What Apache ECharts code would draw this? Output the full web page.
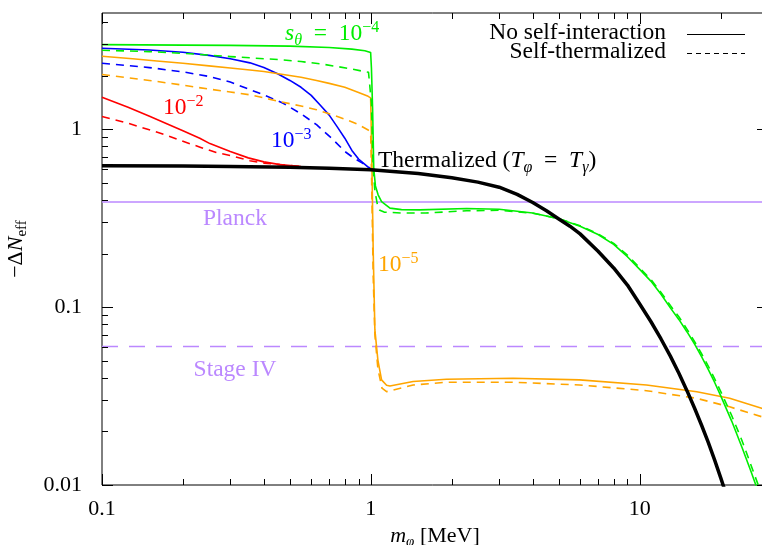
<!DOCTYPE html>
<html>
<head>
<meta charset="utf-8">
<script src="https://cdn.jsdelivr.net/npm/echarts@6/dist/echarts.min.js"></script>
<style>
html, body { margin: 0; padding: 0; background: #fff; }
#chart { width: 762px; height: 545px; }
</style>
</head>
<body>
<div id="chart"></div>
<script>
// -ΔN_eff versus scalar mass m_φ [MeV] for several mixing angles s_θ

// Thermalized reference (T_φ = T_γ)
const thermalized = [[0.1,0.623],[0.2,0.621],[0.3,0.618],[0.5,0.612],[0.7,0.604],[1.0,0.592],[1.5,0.563],[2,0.533],[2.5,0.504],[3,0.472],[3.5,0.43],[4,0.387],[4.5,0.348],[5,0.313],[5.5,0.285],[6,0.258],[7,0.206],[8,0.166],[9,0.133],[10,0.104],[11,0.083],[12,0.0662],[13,0.053],[14,0.0423],[15,0.0338],[16,0.027],[17,0.0216],[18,0.0173],[19,0.0138],[20,0.011],[21,0.0088]];

// s_θ = 1e-4
const s4None = [[0.1,2.99],[0.2,2.97],[0.3,2.96],[0.5,2.93],[0.7,2.88],[0.85,2.82],[0.95,2.76],[0.998,2.70],[1.005,2.2],[1.015,1.3],[1.02,0.9],[1.025,0.6],[1.04,0.48],[1.064,0.428],[1.096,0.392],[1.178,0.36],[1.3,0.353],[1.52,0.352],[2.27,0.358],[3,0.355],[4,0.338],[5,0.314],[6,0.285],[7,0.256],[8,0.225],[9,0.192],[10,0.163],[11,0.14],[12,0.118],[13,0.099],[14,0.085],[15,0.0725],[16,0.062],[17,0.0525],[18,0.0445],[19,0.0377],[20,0.0318],[22,0.0228],[24,0.0163],[26,0.0118],[28,0.0086],[30,0.0063]];
const s4Self = [[0.1,2.78],[0.15,2.73],[0.2,2.67],[0.25,2.61],[0.3,2.56],[0.355,2.52],[0.4,2.49],[0.459,2.46],[0.55,2.4],[0.65,2.33],[0.75,2.25],[0.85,2.18],[0.93,2.12],[0.98,2.09],[0.995,2.05],[1.005,1.4],[1.011,1.0],[1.02,0.6],[1.035,0.45],[1.06,0.37],[1.08,0.35],[1.12,0.342],[1.3,0.338],[1.6,0.338],[2.27,0.348],[3,0.35],[4,0.337],[5,0.314],[6,0.287],[7,0.258],[8,0.228],[9,0.196],[10,0.166],[11,0.143],[12,0.121],[13,0.102],[14,0.088],[15,0.075],[16,0.064],[17,0.0545],[18,0.0465],[19,0.0395],[20,0.0336],[22,0.0245],[24,0.0178],[26,0.0128],[28,0.0094],[30,0.0068]];

// s_θ = 1e-5
const s5None = [[0.1,2.57],[0.13,2.49],[0.16,2.42],[0.2,2.35],[0.25,2.27],[0.3,2.21],[0.355,2.15],[0.4,2.11],[0.459,2.045],[0.55,1.96],[0.628,1.88],[0.7,1.81],[0.8,1.72],[0.9,1.61],[0.977,1.53],[0.998,1.5],[1.005,0.9],[1.011,0.52],[1.02,0.21],[1.035,0.0744],[1.062,0.0504],[1.096,0.039],[1.144,0.0364],[1.177,0.036],[1.436,0.0382],[1.91,0.0393],[3.38,0.0398],[5.98,0.039],[10.6,0.0365],[16.3,0.0334],[21.6,0.0307],[28.4,0.027],[30,0.0264]];
const s5Self = [[0.1,2.03],[0.15,1.88],[0.2,1.77],[0.25,1.68],[0.3,1.62],[0.355,1.56],[0.4,1.5],[0.459,1.43],[0.55,1.35],[0.628,1.287],[0.7,1.22],[0.8,1.14],[0.9,1.06],[0.977,0.99],[0.998,0.965],[1.005,0.6],[1.011,0.35],[1.02,0.15],[1.035,0.07],[1.062,0.045],[1.1,0.035],[1.144,0.0335],[1.2,0.034],[1.436,0.0365],[1.91,0.0378],[3.38,0.0378],[5.98,0.0365],[10.6,0.0339],[16.3,0.0307],[21.6,0.0275],[28.4,0.0242],[30,0.0235]];

// s_θ = 1e-3
const s3None = [[0.1,2.85],[0.15,2.79],[0.2,2.71],[0.25,2.6],[0.3,2.49],[0.355,2.36],[0.4,2.22],[0.45,2.05],[0.5,1.88],[0.55,1.72],[0.6,1.55],[0.65,1.36],[0.7,1.2],[0.75,1.03],[0.8,0.89],[0.85,0.76],[0.9,0.68],[0.95,0.635],[1.0,0.595]];
const s3Self = [[0.1,2.35],[0.15,2.22],[0.2,2.1],[0.25,1.98],[0.3,1.84],[0.355,1.67],[0.4,1.56],[0.472,1.4],[0.55,1.22],[0.628,1.06],[0.724,0.873],[0.8,0.75],[0.862,0.69],[0.93,0.645],[1.0,0.6]];

// s_θ = 1e-2
const s2None = [[0.1,1.51],[0.125,1.33],[0.151,1.18],[0.175,1.07],[0.2,0.98],[0.231,0.89],[0.252,0.83],[0.3,0.75],[0.35,0.69],[0.4,0.655],[0.459,0.632],[0.55,0.617],[0.6,0.612]];
const s2Self = [[0.1,1.18],[0.125,1.08],[0.151,0.99],[0.175,0.92],[0.2,0.855],[0.233,0.79],[0.266,0.74],[0.307,0.705],[0.355,0.665],[0.4,0.645],[0.459,0.632],[0.55,0.617],[0.6,0.612]];

// Sensitivity levels
const planckLevel = 0.39;
const stageIVLevel = 0.06;

// Axis ranges and ticks
const xRange = [0.1, 30];
const yRange = [0.01, 4.5];
const xMajorTicks = [0.1, 1, 10];
const xMinorTicks = [0.2,0.3,0.4,0.5,0.6,0.7,0.8,0.9,2,3,4,5,6,7,8,9,20];
const yMajorTicks = [0.01, 0.1, 1];
const yMinorTicks = [0.02,0.03,0.04,0.05,0.06,0.07,0.08,0.09,0.2,0.3,0.4,0.5,0.6,0.7,0.8,0.9,2,3,4];
const xTickLabels = {0.1: '0.1', 1: '1', 10: '10'};
const yTickLabels = {0.01: '0.01', 0.1: '0.1', 1: '1'};

const FONT = 'Liberation Serif';
const GREEN = '#00ee00', ORANGE = '#ffa500', BLUE = '#0000ff', RED = '#ff0000', PURPLE = '#bb88ff';

const chart = echarts.init(document.getElementById('chart'), null, { renderer: 'canvas' });

function curve(data, color, width, dashed, z) {
  return {
    type: 'line', data: data, showSymbol: false, symbol: 'none', silent: true,
    smooth: false, z: z || 2,
    lineStyle: { color: color, width: width, type: dashed ? [8, 6] : 'solid', join: 'round' }
  };
}

// tick marks on all four sides, placed through the axis scales
const tickData = []
  .concat(xMajorTicks.map(v => [v, yRange[0], 0, 1]))
  .concat(xMinorTicks.map(v => [v, yRange[0], 0, 0]))
  .concat(yMajorTicks.map(v => [xRange[0], v, 1, 1]))
  .concat(yMinorTicks.map(v => [xRange[0], v, 1, 0]));

const tickSeries = {
  type: 'custom', silent: true, clip: false, z: 20,
  encode: { x: 0, y: 1 },
  data: tickData,
  renderItem: function (params, api) {
    const cs = params.coordSys;
    const p = api.coord([api.value(0), api.value(1)]);
    const len = api.value(3) ? 11 : 6;
    const st = { stroke: '#000', lineWidth: 1 };
    if (api.value(2) === 0) {
      const x = Math.round(p[0]) + 0.5;
      const b = cs.y + cs.height, t = cs.y;
      return { type: 'group', children: [
        { type: 'line', shape: { x1: x, y1: b, x2: x, y2: b - len }, style: st },
        { type: 'line', shape: { x1: x, y1: t, x2: x, y2: t + len }, style: st }
      ]};
    }
    const y = Math.round(p[1]) + 0.5;
    const l = cs.x, r = cs.x + cs.width;
    return { type: 'group', children: [
      { type: 'line', shape: { x1: l, y1: y, x2: l + len, y2: y }, style: st },
      { type: 'line', shape: { x1: r, y1: y, x2: r - len, y2: y }, style: st }
    ]};
  }
};

function richSet(size) {
  const small = Math.round(size * 0.68);
  const lh = Math.round(size * 1.25);
  return {
    b: { fontFamily: FONT, fontSize: size, lineHeight: lh },
    i: { fontFamily: FONT, fontSize: size, lineHeight: lh, fontStyle: 'italic' },
    sup: { fontFamily: FONT, fontSize: small, lineHeight: small, verticalAlign: 'top' },
    sub: { fontFamily: FONT, fontSize: small, lineHeight: small, verticalAlign: 'bottom' },
    subi: { fontFamily: FONT, fontSize: small, lineHeight: small, verticalAlign: 'bottom', fontStyle: 'italic' }
  };
}
const richAxis = richSet(22);
const richLabel = richSet(23.5);

function label(x, y, text, color, align) {
  return {
    type: 'text', x: x, y: y, silent: true, z: 30,
    style: { text: text, rich: richLabel, fill: color, align: align || 'left', verticalAlign: 'middle', font: '23.5px ' + FONT }
  };
}

const EQ = '\u2002=\u2002';

const option = {
  animation: false,
  backgroundColor: '#fff',
  textStyle: { fontFamily: FONT },
  grid: { left: 102, top: 13, right: -6, bottom: 60, show: true, borderColor: '#000', borderWidth: 1,
    backgroundColor: 'transparent', containLabel: false, outerBoundsMode: 'none' },
  xAxis: {
    type: 'log', logBase: 10, min: xRange[0], max: xRange[1],
    axisLine: { show: false }, axisTick: { show: false }, splitLine: { show: false },
    axisLabel: { margin: 13, fontSize: 22, color: '#000', fontFamily: FONT, showMaxLabel: false,
      formatter: v => xTickLabels[+(+v).toPrecision(3)] || '' },
    name: '{i|m}{subi|φ}{b| [MeV]}', nameLocation: 'middle', nameGap: 37,
    nameTextStyle: { color: '#000', rich: richAxis }
  },
  yAxis: {
    type: 'log', logBase: 10, min: yRange[0], max: yRange[1],
    axisLine: { show: false }, axisTick: { show: false }, splitLine: { show: false },
    axisLabel: { margin: 20, fontSize: 22, color: '#000', fontFamily: FONT, showMaxLabel: false,
      formatter: v => yTickLabels[+(+v).toPrecision(3)] || '' },
    name: '{b|−Δ}{i|N}{sub|eff}', nameLocation: 'middle', nameGap: 72, nameRotate: 90,
    nameTextStyle: { color: '#000', rich: richAxis }
  },
  series: [
    { type: 'line', data: [[xRange[0], planckLevel], [xRange[1], planckLevel]], showSymbol: false, silent: true, z: 1,
      lineStyle: { color: PURPLE, width: 1.5 } },
    { type: 'line', data: [[xRange[0], stageIVLevel], [xRange[1], stageIVLevel]], showSymbol: false, silent: true, z: 1,
      lineStyle: { color: PURPLE, width: 1.5, type: [16, 11] } },
    curve(s2Self, RED, 1.6, true),
    curve(s2None, RED, 1.6, false),
    curve(s3Self, BLUE, 1.6, true),
    curve(s3None, BLUE, 1.6, false),
    curve(s5Self, ORANGE, 1.6, true),
    curve(s5None, ORANGE, 1.6, false),
    curve(s4Self, GREEN, 1.6, true),
    curve(s4None, GREEN, 1.6, false),
    curve(thermalized, '#000', 3.5, false, 5),
    tickSeries
  ],
  graphic: [
    label(285, 34, '{i|s}{subi|θ}{b|' + EQ + '10}{sup|−4}', GREEN),
    label(163, 108, '{b|10}{sup|−2}', RED),
    label(271, 141, '{b|10}{sup|−3}', BLUE),
    label(378, 265, '{b|10}{sup|−5}', ORANGE),
    label(378, 161, '{b|Thermalized (}{i|T}{subi|φ}{b|' + EQ + '}{i|T}{subi|γ}{b|)}', '#000'),
    label(235, 219, '{b|Planck}', PURPLE, 'center'),
    label(235, 370, '{b|Stage IV}', PURPLE, 'center'),
    label(666, 33, '{b|No self-interaction}', '#000', 'right'),
    label(666, 52, '{b|Self-thermalized}', '#000', 'right'),
    { type: 'line', silent: true, shape: { x1: 687, y1: 34.5, x2: 745, y2: 34.5 }, style: { stroke: '#000', lineWidth: 1 } },
    { type: 'line', silent: true, shape: { x1: 687, y1: 53.5, x2: 745, y2: 53.5 }, style: { stroke: '#000', lineWidth: 1, lineDash: [5, 4] } }
  ]
};

chart.setOption(option);
</script>
</body>
</html>
